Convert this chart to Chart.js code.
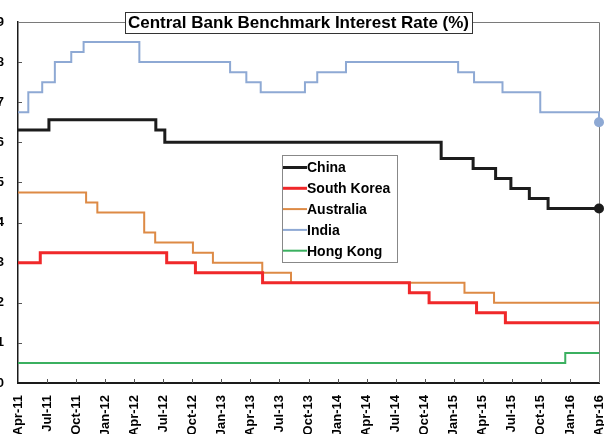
<!DOCTYPE html>
<html>
<head>
<meta charset="utf-8">
<script src="https://cdn.jsdelivr.net/npm/chart.js@4.4.1/dist/chart.umd.min.js"></script>
<style>
  html, body { margin: 0; padding: 0; width: 604px; height: 434px; overflow: hidden; background: #fff; }
  #wrap { position: absolute; left: -10px; top: 0; width: 614px; height: 450px; }
</style>
</head>
<body>
<div id="wrap"><canvas id="c"></canvas></div>
<script>
// Quarter tick labels along the time axis (one every three months)
const tickLabels = ['Apr-11','Jul-11','Oct-11','Jan-12','Apr-12','Jul-12','Oct-12','Jan-13','Apr-13','Jul-13','Oct-13',
                    'Jan-14','Apr-14','Jul-14','Oct-14','Jan-15','Apr-15','Jul-15','Oct-15','Jan-16','Apr-16'];

// Policy-rate change dates and the rate that applies from each date (%)
const chinaDates = ['2011-04-01','2011-07-07','2012-06-08','2012-07-06','2014-11-22','2015-03-01','2015-05-11','2015-06-28','2015-08-26','2015-10-24','2016-04-01'];
const chinaRates = [6.31, 6.56, 6.31, 6.00, 5.60, 5.35, 5.10, 4.85, 4.60, 4.35, 4.35];

const koreaDates = ['2011-04-01','2011-06-10','2012-07-12','2012-10-11','2013-05-09','2014-08-14','2014-10-15','2015-03-12','2015-06-11','2016-04-01'];
const koreaRates = [3.00, 3.25, 3.00, 2.75, 2.50, 2.25, 2.00, 1.75, 1.50, 1.50];

const australiaDates = ['2011-04-01','2011-11-02','2011-12-07','2012-05-02','2012-06-06','2012-10-03','2012-12-05','2013-05-08','2013-08-07','2015-02-04','2015-05-06','2016-04-01'];
const australiaRates = [4.75, 4.50, 4.25, 3.75, 3.50, 3.25, 3.00, 2.75, 2.50, 2.25, 2.00, 2.00];

const indiaDates = ['2011-04-01','2011-05-03','2011-06-16','2011-07-26','2011-09-16','2011-10-25','2012-04-17','2013-01-29','2013-03-19','2013-05-03',
                    '2013-09-20','2013-10-29','2014-01-28','2015-01-15','2015-03-04','2015-06-02','2015-09-29','2016-04-01'];
const indiaRates = [6.75, 7.25, 7.50, 8.00, 8.25, 8.50, 8.00, 7.75, 7.50, 7.25, 7.50, 7.75, 8.00, 7.75, 7.50, 7.25, 6.75, 6.50];

const hongKongDates = ['2011-04-01','2015-12-17','2016-04-01'];
const hongKongRates = [0.50, 0.75, 0.75];

const yTicks = [0, 1, 2, 3, 4, 5, 6, 7, 8, 9];

// Months elapsed since 1 Apr 2011 (axis origin)
function monthsSinceStart(iso) {
  const [y, m, d] = iso.split('-').map(Number);
  const dim = new Date(y, m, 0).getDate();
  return (y - 2011) * 12 + (m - 4) + (d - 1) / dim;
}
function toPoints(dates, rates) {
  return dates.map((d, i) => ({ x: monthsSinceStart(d), y: rates[i] }));
}

const FONT = "'Liberation Sans', Arial, sans-serif";
const SHIFT = 10; // canvas is offset 10px to the left of the page

function series(label, dates, rates, color, width, endDot) {
  const n = dates.length;
  return {
    label, data: toPoints(dates, rates),
    borderColor: color, backgroundColor: color, borderWidth: width,
    stepped: 'before', fill: false, clip: false,
    pointRadius: ctx => (endDot && ctx.dataIndex === n - 1) ? 5 : 0,
    pointBorderWidth: 0,
    pointBackgroundColor: color
  };
}

const datasets = [
  series('China', chinaDates, chinaRates, '#1c1c1c', 3, true),
  series('South Korea', koreaDates, koreaRates, '#f0282a', 3, false),
  series('Australia', australiaDates, australiaRates, '#dd8a45', 2, false),
  series('India', indiaDates, indiaRates, '#8ea9d4', 2, true),
  series('Hong Kong', hongKongDates, hongKongRates, '#3bb060', 2, false)
];

// Thin grey frame on the top and right of the plot area, plus inward tick marks
const framePlugin = {
  id: 'frame',
  beforeDatasetsDraw(chart) {
    const { ctx, chartArea: a } = chart;
    ctx.save();
    ctx.strokeStyle = '#7a7a7a';
    ctx.lineWidth = 1;
    ctx.beginPath();
    ctx.moveTo(a.left, a.top + 0.5);
    ctx.lineTo(a.right + 0.5, a.top + 0.5);
    ctx.lineTo(a.right + 0.5, a.bottom);
    ctx.stroke();
    const xs = chart.scales.x, ys = chart.scales.y;
    ctx.strokeStyle = '#555';
    ctx.beginPath();
    for (let i = 1; i < tickLabels.length - 1; i++) {
      const px = Math.round(xs.getPixelForValue(i * 3)) + 0.5;
      ctx.moveTo(px, a.bottom);
      ctx.lineTo(px, a.bottom - 4);
    }
    for (let i = 1; i < yTicks.length - 1; i++) {
      const py = Math.round(ys.getPixelForValue(yTicks[i])) + 0.5;
      ctx.moveTo(a.left, py);
      ctx.lineTo(a.left + 4, py);
    }
    ctx.stroke();
    ctx.restore();
  }
};

// Boxed chart title and boxed legend drawn over the plot
const overlayPlugin = {
  id: 'overlay',
  afterDraw(chart) {
    const ctx = chart.ctx;
    ctx.save();
    const tx0 = 125 + SHIFT, tx1 = 472 + SHIFT, ty0 = 12, ty1 = 33;
    ctx.fillStyle = '#fff';
    ctx.fillRect(tx0, ty0, tx1 - tx0, ty1 - ty0);
    ctx.strokeStyle = '#333';
    ctx.lineWidth = 1;
    ctx.strokeRect(tx0 + 0.5, ty0 + 0.5, tx1 - tx0, ty1 - ty0);
    ctx.fillStyle = '#000';
    ctx.font = 'bold 17px ' + FONT;
    ctx.textAlign = 'center';
    ctx.textBaseline = 'middle';
    ctx.fillText('Central Bank Benchmark Interest Rate (%)', (tx0 + tx1) / 2, (ty0 + ty1) / 2 + 1);

    const lx0 = 282 + SHIFT, lx1 = 397 + SHIFT, ly0 = 155, ly1 = 262;
    ctx.fillStyle = '#fff';
    ctx.fillRect(lx0, ly0, lx1 - lx0, ly1 - ly0);
    ctx.strokeStyle = '#888';
    ctx.strokeRect(lx0 + 0.5, ly0 + 0.5, lx1 - lx0, ly1 - ly0);
    ctx.font = 'bold 14px ' + FONT;
    ctx.textAlign = 'left';
    chart.data.datasets.forEach((ds, i) => {
      const cy = 167.5 + i * 20.8;
      ctx.strokeStyle = ds.borderColor;
      ctx.lineWidth = ds.borderWidth;
      ctx.beginPath();
      ctx.moveTo(lx0 + 1, cy);
      ctx.lineTo(lx0 + 25, cy);
      ctx.stroke();
      ctx.fillStyle = '#000';
      ctx.fillText(ds.label, lx0 + 25, cy + 1);
    });
    ctx.restore();
  }
};

new Chart(document.getElementById('c'), {
  type: 'line',
  data: { datasets },
  plugins: [framePlugin, overlayPlugin],
  options: {
    responsive: true,
    maintainAspectRatio: false,
    animation: false,
    events: [],
    layout: { padding: { top: 22, right: 5, left: 0, bottom: 0 } },
    plugins: { legend: { display: false }, title: { display: false }, tooltip: { enabled: false } },
    scales: {
      x: {
        type: 'linear', min: 0, max: 60,
        afterFit: s => { s.height = 67; s.paddingLeft = 0; s.paddingRight = 0; },
        grid: { display: false, drawTicks: false },
        border: { display: true, color: '#1a1a1a', width: 2 },
        ticks: {
          stepSize: 3, autoSkip: false, minRotation: 90, maxRotation: 90, padding: 12,
          color: '#000', font: { family: FONT, size: 13, weight: 'bold' },
          callback: v => tickLabels[Math.round(v / 3)]
        }
      },
      y: {
        min: 0, max: 9,
        afterFit: s => { s.width = 28; s.paddingTop = 0; s.paddingBottom = 0; },
        afterBuildTicks: s => { s.ticks = yTicks.map(v => ({ value: v })); },
        grid: { display: false, drawTicks: false },
        border: { display: true, color: '#1a1a1a', width: 1.5 },
        ticks: {
          padding: 14, color: '#000', font: { family: FONT, size: 13, weight: 'bold' },
          callback: v => String(v)
        }
      }
    }
  }
});
</script>
</body>
</html>
